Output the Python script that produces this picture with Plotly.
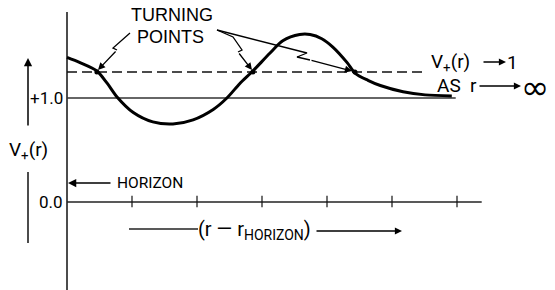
import plotly.graph_objects as go

# ---- data (x in tick units of (r - r_horizon), y = V+(r)) ----
r_vals = [0.0, 0.2, 0.46, 0.62, 0.77, 1.02, 1.32, 1.63, 1.94, 2.25, 2.46, 2.66, 2.86,
          3.12, 3.32, 3.58, 3.74, 3.92, 4.09, 4.31, 4.43, 4.63, 4.82, 5.17, 5.51, 5.92]
v_vals = [1.39, 1.34, 1.26, 1.14, 1.01, 0.86, 0.77, 0.75, 0.79, 0.89, 1.0, 1.14, 1.26,
          1.43, 1.55, 1.61, 1.61, 1.57, 1.49, 1.34, 1.24, 1.17, 1.12, 1.06, 1.03, 1.02]
turning_r = [0.46, 2.86, 4.43]
turning_level = 1.25
dashed_end = 5.51
unit_level = 1.0
unit_end = 5.98
axis_end = 6.38
tick_r = [1, 2, 3, 4, 5, 6]
y_tick_labels = ["+1.0", "0.0"]
y_tick_vals = [1.0, 0.0]

# pixel helpers (window pixels) for placing annotations
X0, XS = 67.0, 65.0
Y0, YS = 202.0, 104.0
def px(x):
    return (x - X0) / XS
def py(y):
    return (Y0 - y) / YS

FONT = "Roboto, Liberation Sans, Arial, sans-serif"
FONT2 = "Liberation Sans, Arial, sans-serif"
fig = go.Figure()

# axes lines
fig.add_trace(go.Scatter(x=[0, 0], y=[py(12), py(292)], mode="lines",
                         line=dict(color="#111", width=1.5), hoverinfo="skip"))
fig.add_trace(go.Scatter(x=[0, axis_end], y=[0, 0], mode="lines",
                         line=dict(color="#222", width=1.5), hoverinfo="skip"))
for t in tick_r:
    fig.add_trace(go.Scatter(x=[t, t], y=[-0.05, 0.06], mode="lines",
                             line=dict(color="#111", width=1.2), hoverinfo="skip"))
# +1 line
fig.add_trace(go.Scatter(x=[0, unit_end], y=[unit_level, unit_level], mode="lines",
                         line=dict(color="#333", width=1.3), hoverinfo="skip"))
# dashed turning level
fig.add_trace(go.Scatter(x=[0, dashed_end], y=[turning_level, turning_level], mode="lines",
                         line=dict(color="#111", width=1.3, dash="10px,5px"), hoverinfo="skip"))
# potential curve
fig.add_trace(go.Scatter(x=r_vals, y=v_vals, mode="lines",
                         line=dict(color="black", width=3, shape="spline", smoothing=0.8),
                         hoverinfo="skip"))
# turning points
fig.add_trace(go.Scatter(x=turning_r, y=[turning_level] * 3, mode="markers",
                         marker=dict(color="black", size=5), hoverinfo="skip"))

# zigzag pointer lines (without last segment)
zig = [
    [(130, 33), (113, 48), (117, 50)],
    [(217, 30), (233, 37), (242, 50), (238, 52)],
    [(217, 30), (307, 53), (297, 57), (310, 60)],
]
tips = [(98, 70), (252, 70), (352, 71)]
for pts in zig:
    fig.add_trace(go.Scatter(x=[px(a) for a, b in pts], y=[py(b) for a, b in pts], mode="lines",
                             line=dict(color="black", width=1.3), hoverinfo="skip"))

ann = []
def arrow(tail, tip, w=1.3):
    ann.append(dict(x=px(tip[0]), y=py(tip[1]), ax=px(tail[0]), ay=py(tail[1]),
                    xref="x", yref="y", axref="x", ayref="y", text="", showarrow=True,
                    arrowhead=2, arrowsize=1.1, arrowwidth=w, arrowcolor="black"))
for pts, tip in zip(zig, tips):
    arrow(pts[-1], tip)
arrow((28, 127), (28, 58), 1.5)          # y-axis arrow
arrow((112, 183), (68, 183), 1.5)        # horizon arrow
arrow((315, 231), (402, 231), 1.3)       # r arrow
arrow((482, 62), (506, 62), 1.3)         # V -> 1
arrow((478, 86), (521, 86), 1.3)         # r -> inf

def text(s, x, y, size, anchor="left", family=FONT):
    ann.append(dict(x=px(x), y=py(y), xref="x", yref="y", text=s, showarrow=False,
                    xanchor=anchor, yanchor="middle", borderpad=0,
                    font=dict(family=family, size=size, color="black")))

text("TURNING", 172, 15, 18, "center", FONT2)
text("POINTS", 170, 36.5, 18, "center", FONT2)
for lab, v in zip(y_tick_labels, y_tick_vals):
    text(lab, 64, Y0 - v * YS, 17, "right")
text("V<sub>+</sub>(r)", 8, 150, 19)
text("HORIZON", 116, 183, 15.5)
text("(r — r<sub>HORIZON</sub>)", 197, 230, 20)
text("V<sub>+</sub>(r)", 430, 62, 19)
text("1", 506, 62, 19)
text("AS  r", 436, 85, 19)
text("∞", 520, 87, 34, family="DejaVu Sans, Liberation Sans, sans-serif")

# line before (r - r_h)
fig.add_trace(go.Scatter(x=[px(129), px(198)], y=[py(229), py(229)], mode="lines",
                         line=dict(color="#222", width=1.3), hoverinfo="skip"))
# lower bar of y label
fig.add_trace(go.Scatter(x=[px(28), px(28)], y=[py(172), py(243)], mode="lines",
                         line=dict(color="#111", width=1.5), hoverinfo="skip"))

fig.update_layout(
    width=555, height=290, margin=dict(l=0, r=0, t=0, b=0),
    paper_bgcolor="white", plot_bgcolor="white", showlegend=False,
    xaxis=dict(range=[px(0), px(555)], visible=False, fixedrange=True),
    yaxis=dict(range=[py(290), py(0)], visible=False, fixedrange=True),
    annotations=ann,
)
fig.write_html("out.html", config={"displayModeBar": False},
               post_script="document.body.style.margin='0';document.body.style.overflow='hidden';")
